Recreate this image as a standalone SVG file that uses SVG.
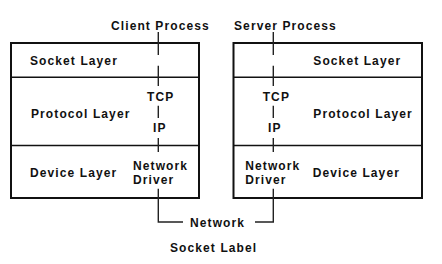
<svg xmlns="http://www.w3.org/2000/svg" width="442" height="264" viewBox="0 0 442 264">
<style>
text{font-family:"Liberation Sans",Arial,sans-serif;font-weight:bold;font-size:12px;letter-spacing:1.1px;fill:#111}
.box{fill:#fff;stroke:#111;stroke-width:2}
.div{stroke:#111;stroke-width:1.5;fill:none}
.con{stroke:#222;stroke-width:1.4;fill:none}
</style>
<rect width="442" height="264" fill="#fff"/>
<g id="client">
<rect class="box" x="11" y="43" width="188" height="155"/>
<line class="div" x1="11" y1="77.3" x2="199" y2="77.3"/>
<line class="div" x1="11" y1="145.5" x2="199" y2="145.5"/>
<text x="30" y="65">Socket Layer</text>
<text x="31" y="118">Protocol Layer</text>
<text x="30" y="177">Device Layer</text>
<text x="147" y="101">TCP</text>
<text x="153" y="131.7">IP</text>
<text x="133" y="169.7">Network</text>
<text x="133" y="184.3">Driver</text>
</g>
<g id="server">
<rect class="box" x="233.5" y="43" width="188.5" height="155"/>
<line class="div" x1="233.5" y1="77.3" x2="422" y2="77.3"/>
<line class="div" x1="233.5" y1="145.5" x2="422" y2="145.5"/>
<text x="313.3" y="65">Socket Layer</text>
<text x="313.3" y="118">Protocol Layer</text>
<text x="312.7" y="177">Device Layer</text>
<text x="262.7" y="101">TCP</text>
<text x="268" y="131.7">IP</text>
<text x="245.3" y="169.7">Network</text>
<text x="245.3" y="184.3">Driver</text>
</g>
<g id="labels">
<text x="111" y="30">Client Process</text>
<text x="234" y="30">Server Process</text>
<text x="190" y="227">Network</text>
<text x="170" y="252">Socket Label</text>
</g>
<g id="connectors">
<path class="con" d="M158.3 32V55M158.3 65.7V86M158.3 105.7V118M158.3 138V152M158.3 188.7V222H183"/>
<path class="con" d="M273.3 32V55M273.3 65.7V86M273.3 105.7V118M273.3 138V152M273.3 188.7V222H255"/>
</g>
</svg>
